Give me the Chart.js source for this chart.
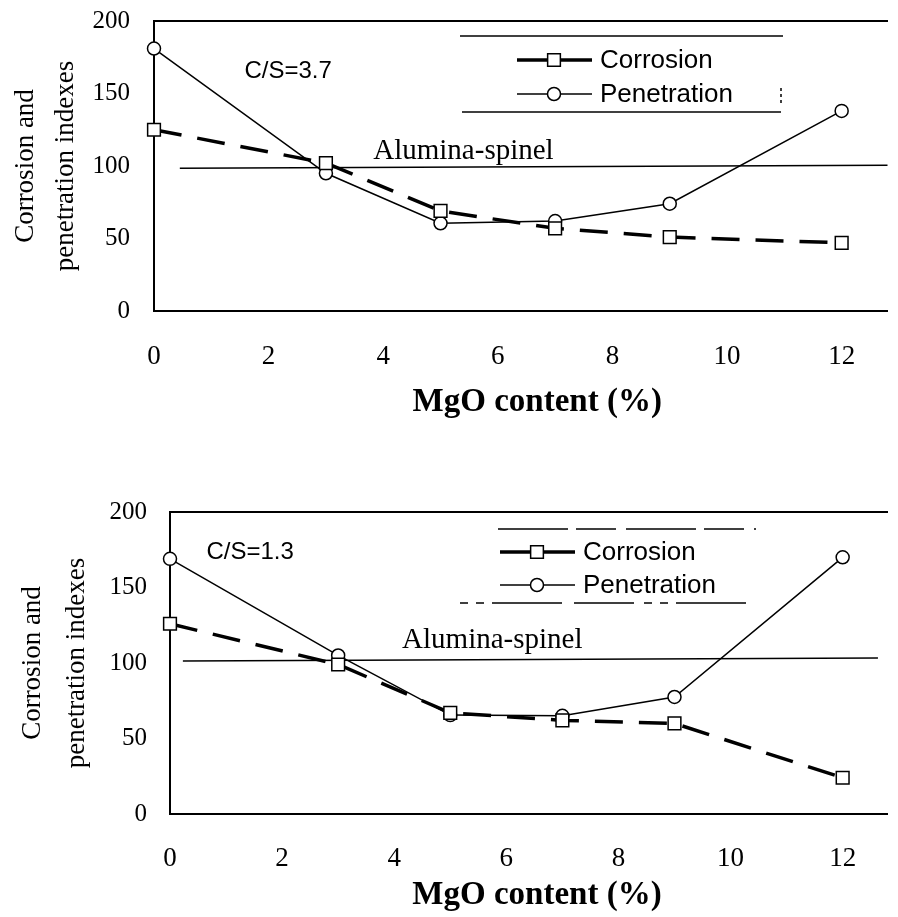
<!DOCTYPE html>
<html><head><meta charset="utf-8">
<script src="https://cdn.jsdelivr.net/npm/chart.js@4"></script>
<style>
html,body{margin:0;padding:0;background:#fff;}
#wrap{width:898px;height:917px;position:relative;overflow:hidden;}
.c{position:absolute;left:0;}
</style></head><body>
<div id="wrap">
<div class="c" style="top:0;width:898px;height:440px"><canvas id="c1"></canvas></div>
<div class="c" style="top:440px;width:898px;height:477px"><canvas id="c2"></canvas></div>
</div>
<script>
// ---- data ----
const mgo = [0, 3, 5, 7, 9, 12];
const xTicks = [0, 2, 4, 6, 8, 10, 12];
const yTicks = [0, 50, 100, 150, 200];
const seriesNames = ['Corrosion', 'Penetration'];
const refName = 'Alumina-spinel';
const xTitle = 'MgO content (%)';
const yTitle = ['Corrosion and', 'penetration indexes'];

// C/S = 3.7 (top panel)
const corrosionTop = [125, 102, 69, 57, 51, 47];
const penetrationTop = [181, 95, 60.5, 62, 74, 138];
const spinelTopX = [0.45, 12.8];
const spinelTopY = [98.5, 100.5];

// C/S = 1.3 (bottom panel)
const corrosionBottom = [126, 99, 67, 62, 60, 24];
const penetrationBottom = [169, 105, 65.5, 65, 77.5, 170];
const spinelBottomX = [0.23, 12.63];
const spinelBottomY = [101.3, 103.3];

const pts = (xs, ys) => xs.map((x, i) => ({x: x, y: ys[i]}));

const extras = {
  id: 'extras',
  afterDatasetsDraw(chart, args, o) {
    const ctx = chart.ctx, x = chart.scales.x, y = chart.scales.y;
    ctx.save();
    ctx.fillStyle = '#000';
    ctx.textBaseline = 'middle';
    ctx.textAlign = 'center';
    ctx.font = '24px "Liberation Sans"';
    ctx.fillText(o.csText, x.getPixelForValue(o.csPos[0]), y.getPixelForValue(o.csPos[1]));
    ctx.font = '29px "Liberation Serif"';
    ctx.fillText(refName, x.getPixelForValue(o.alPos[0]), y.getPixelForValue(o.alPos[1]));
    // legend frame
    const L = o.legend;
    ctx.strokeStyle = '#000';
    ctx.lineWidth = 1.5;
    L.frame.forEach(f => {
      ctx.setLineDash(f.dash || []);
      ctx.beginPath(); ctx.moveTo(f.x0, f.y0); ctx.lineTo(f.x1, f.y1); ctx.stroke();
    });
    ctx.setLineDash([]);
    // legend entries
    [0, 1].forEach((di, r) => {
      const ds = chart.data.datasets[di];
      const ry = L.rows[r];
      ctx.strokeStyle = '#000';
      ctx.lineWidth = ds.borderWidth;
      ctx.beginPath(); ctx.moveTo(L.sx0, ry); ctx.lineTo(L.sx1, ry); ctx.stroke();
      ctx.lineWidth = ds.pointBorderWidth;
      ctx.fillStyle = '#fff';
      ctx.beginPath();
      if (ds.pointStyle === 'rect') {
        const s = Math.SQRT1_2 * ds.pointRadius;
        ctx.rect(L.mx - s, ry - s, 2 * s, 2 * s);
      } else {
        ctx.arc(L.mx, ry, ds.pointRadius, 0, Math.PI * 2);
      }
      ctx.fill(); ctx.stroke();
      ctx.fillStyle = '#000';
      ctx.textAlign = 'left';
      ctx.font = '26px "Liberation Sans"';
      ctx.fillText(ds.label, L.tx, ry + 1);
    });
    ctx.restore();
  }
};

function noPad(s) { s.paddingTop = 0; s.paddingBottom = 0; s.paddingLeft = 0; s.paddingRight = 0; }

function makeChart(id, cfg) {
  const serif = 'Liberation Serif';
  return new Chart(document.getElementById(id), {
    type: 'line',
    data: {
      datasets: [
        {label: seriesNames[0], data: pts(mgo, cfg.corr), borderColor: '#000', borderWidth: 3.5,
         borderDash: [28, 16], pointStyle: 'rect', pointRadius: 9, pointBackgroundColor: '#fff',
         pointBorderColor: '#000', pointBorderWidth: 1.5, tension: 0, clip: false},
        {label: seriesNames[1], data: pts(mgo, cfg.pen), borderColor: '#000', borderWidth: 1.5,
         pointStyle: 'circle', pointRadius: 6.5, pointBackgroundColor: '#fff',
         pointBorderColor: '#000', pointBorderWidth: 1.5, tension: 0, clip: false},
        {label: refName, data: pts(cfg.spX, cfg.spY), borderColor: '#000', borderWidth: 1.5,
         pointRadius: 0, tension: 0, clip: false}
      ]
    },
    options: {
      responsive: true, maintainAspectRatio: false, animation: false,
      layout: {padding: {top: cfg.padTop, left: 0, right: 0, bottom: 0}},
      plugins: {legend: {display: false}, tooltip: {enabled: false},
        extras: cfg.extras},
      scales: {
        x: {type: 'linear', min: 0, max: 12.8, position: 'bottom',
          afterBuildTicks: s => { s.ticks = xTicks.map(v => ({value: v})); },
          grid: {display: false, drawTicks: false},
          border: {display: true, color: '#000', width: 2},
          ticks: {font: {family: serif, size: 27}, color: '#000', padding: cfg.xPad, maxRotation: 0},
          title: {display: true, text: cfg.xLead + xTitle, color: '#000',
            font: {family: serif, size: 33, weight: 'bold'}, padding: {top: 0, bottom: cfg.xTitlePad}},
          afterFit: s => { s.height = cfg.xH; noPad(s); }
        },
        xTop: {type: 'linear', min: 0, max: 12.8, position: 'top',
          ticks: {display: false}, grid: {display: false, drawTicks: false},
          border: {display: true, color: '#000', width: 2},
          afterFit: s => { s.height = 0; noPad(s); }
        },
        y: {min: 0, max: 200,
          afterBuildTicks: s => { s.ticks = yTicks.map(v => ({value: v})); },
          grid: {display: false, drawTicks: false},
          border: {display: true, color: '#000', width: 2},
          ticks: {font: {family: serif, size: 25}, color: '#000', padding: cfg.yPad},
          title: {display: true, text: yTitle, color: '#000',
            font: {family: serif, size: 27, lineHeight: cfg.yLH}, padding: {top: cfg.yTitlePad, bottom: 0}},
          afterFit: s => { s.width = cfg.yW; noPad(s); }
        }
      }
    },
    plugins: [extras]
  });
}

makeChart('c1', {
  corr: corrosionTop, pen: penetrationTop, spX: spinelTopX, spY: spinelTopY,
  padTop: 21, xH: 129, xPad: 30, xTitlePad: 18, xLead: '\u2003', yW: 154, yPad: 24, yLH: '40px', yTitlePad: 6,
  extras: {csText: 'C/S=3.7', csPos: [2.34, 165], alPos: [5.40, 110],
    legend: {frame: [{x0: 460, y0: 36, x1: 783, y1: 36}, {x0: 462, y0: 112, x1: 781, y1: 112},
                     {x0: 781, y0: 88, x1: 781, y1: 105, dash: [3, 3]}],
             rows: [60, 94], sx0: 517, sx1: 592, mx: 554, tx: 600}}
});

makeChart('c2', {
  corr: corrosionBottom, pen: penetrationBottom, spX: spinelBottomX, spY: spinelBottomY,
  padTop: 72, xH: 103, xPad: 29, xTitlePad: 2, xLead: '\u2002', yW: 170, yPad: 23, yLH: '44px', yTitlePad: 11,
  extras: {csText: 'C/S=1.3', csPos: [1.43, 173], alPos: [5.75, 115],
    legend: {frame: [{x0: 498, y0: 89, x1: 756, y1: 89, dash: [70, 8, 40, 10]},
                     {x0: 460, y0: 163, x1: 748, y1: 163, dash: [8, 8, 8, 8, 70, 12, 60, 10]}],
             rows: [112, 145], sx0: 500, sx1: 575, mx: 537, tx: 583}}
});
</script>
</body></html>
